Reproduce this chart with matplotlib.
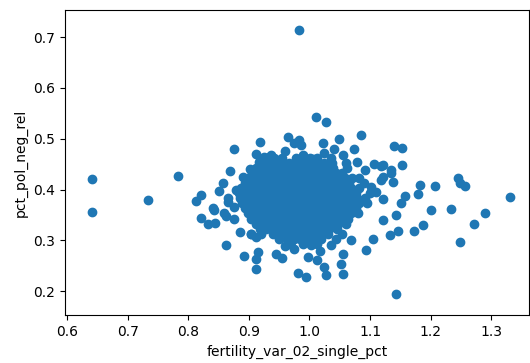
# libraries
import matplotlib
matplotlib.use('Agg')
import matplotlib.pyplot as plt

# points away from the main cluster (fertility, pol_neg)
fert_outer = [0.642, 0.642, 0.734, 0.783, 0.982, 1.011, 1.027, 1.143, 1.330,
              0.821, 0.832, 0.844, 0.862, 0.886, 0.892, 0.912, 0.915, 0.912, 0.945,
              0.954, 0.981, 0.904, 0.862, 0.876, 0.842,
              0.994, 1.027, 1.055, 1.055, 1.052, 0.997, 1.013, 1.024, 1.093, 1.104,
              1.132, 1.146, 1.173, 1.187, 1.201, 1.233, 1.249, 1.272, 1.289, 1.068,
              1.143, 0.969, 1.002,
              1.085, 1.140, 1.153, 1.153, 1.245, 1.256, 1.207, 1.183, 1.179, 1.157,
              1.151, 1.134, 1.138, 1.106, 1.118, 1.074, 1.049, 1.022, 0.983, 0.986,
              1.079, 1.091, 1.082, 1.101, 1.118, 1.121, 1.110,
              0.876, 0.918, 0.964, 0.959, 0.912, 0.925, 0.933, 0.947, 0.869, 0.902,
              0.938, 0.890, 0.914, 0.857, 0.851, 0.821, 0.812, 0.841, 0.865, 0.879,
              0.975, 0.917, 0.936, 1.041, 0.989, 1.055, 1.005, 1.024,
              1.121, 1.135, 1.248, 1.121, 1.121, 0.865, 0.859, 0.876, 0.903, 0.912,
              0.920, 0.975, 1.018, 0.960, 1.036]
pol_outer = [0.420, 0.355, 0.379, 0.426, 0.713, 0.543, 0.532, 0.194, 0.385,
             0.345, 0.332, 0.334, 0.291, 0.316, 0.269, 0.264, 0.277, 0.243, 0.274,
             0.266, 0.236, 0.312, 0.348, 0.343, 0.359,
             0.228, 0.231, 0.233, 0.273, 0.253, 0.267, 0.261, 0.248, 0.282, 0.302,
             0.310, 0.319, 0.319, 0.330, 0.359, 0.362, 0.296, 0.332, 0.354, 0.300,
             0.350, 0.297, 0.290,
             0.507, 0.485, 0.481, 0.449, 0.422, 0.407, 0.407, 0.409, 0.392, 0.387,
             0.373, 0.432, 0.415, 0.451, 0.446, 0.479, 0.499, 0.491, 0.497, 0.487,
             0.455, 0.438, 0.422, 0.405, 0.418, 0.382, 0.395,
             0.479, 0.493, 0.504, 0.476, 0.470, 0.464, 0.464, 0.458, 0.437, 0.440,
             0.433, 0.425, 0.418, 0.413, 0.397, 0.389, 0.378, 0.363, 0.384, 0.399,
             0.491, 0.455, 0.468, 0.479, 0.468, 0.468, 0.461, 0.471,
             0.448, 0.438, 0.412, 0.340, 0.425, 0.376, 0.353, 0.366, 0.313, 0.307,
             0.313, 0.284, 0.279, 0.288, 0.291]

# dense core of the cloud, read row by row (pol_neg level -> fertility values)
core_rows = {
    0.463: [0.941, 0.954, 0.977, 0.991, 1.001, 1.013, 1.036],
    0.453: [0.921, 0.933, 0.943, 0.956, 0.967, 0.979, 0.990, 1.003, 1.012, 1.024, 1.037, 1.060],
    0.443: [0.912, 0.923, 0.936, 0.946, 0.957, 0.970, 0.980, 0.993, 1.004, 1.014, 1.027, 1.038, 1.062],
    0.433: [0.905, 0.917, 0.927, 0.940, 0.951, 0.961, 0.974, 0.986, 0.996, 1.009, 1.019, 1.030, 1.043, 1.053],
    0.423: [0.899, 0.911, 0.922, 0.932, 0.945, 0.955, 0.968, 0.978, 0.990, 1.002, 1.012, 1.025, 1.035, 1.047, 1.059, 1.070],
    0.413: [0.893, 0.904, 0.915, 0.928, 0.938, 0.951, 0.961, 0.972, 0.985, 0.995, 1.008, 1.018, 1.029, 1.042, 1.052, 1.065, 1.090],
    0.403: [0.887, 0.898, 0.911, 0.921, 0.934, 0.944, 0.955, 0.968, 0.978, 0.991, 1.001, 1.012, 1.025, 1.035, 1.048, 1.058, 1.069, 1.082],
    0.393: [0.884, 0.896, 0.906, 0.917, 0.930, 0.940, 0.952, 0.964, 0.974, 0.987, 0.997, 1.010, 1.020, 1.031, 1.044, 1.054, 1.067, 1.077, 1.100],
    0.383: [0.886, 0.897, 0.910, 0.920, 0.931, 0.944, 0.954, 0.967, 0.977, 0.988, 1.001, 1.011, 1.022, 1.035, 1.045, 1.058, 1.068, 1.079, 1.092],
    0.373: [0.889, 0.901, 0.911, 0.924, 0.934, 0.945, 0.958, 0.968, 0.981, 0.991, 1.002, 1.015, 1.025, 1.038, 1.048, 1.059, 1.072, 1.082, 1.095],
    0.363: [0.893, 0.903, 0.916, 0.926, 0.939, 0.949, 0.960, 0.973, 0.983, 0.996, 1.006, 1.018, 1.030, 1.040, 1.053, 1.063, 1.076],
    0.353: [0.898, 0.910, 0.920, 0.931, 0.944, 0.954, 0.967, 0.977, 0.988, 1.001, 1.011, 1.024, 1.034, 1.045, 1.058, 1.068, 1.080],
    0.343: [0.904, 0.914, 0.927, 0.937, 0.950, 0.960, 0.971, 0.984, 0.994, 1.007, 1.017, 1.028, 1.041, 1.051, 1.064],
    0.333: [0.911, 0.923, 0.933, 0.946, 0.956, 0.967, 0.980, 0.990, 1.003, 1.013, 1.024, 1.037, 1.047, 1.060],
    0.323: [0.919, 0.929, 0.942, 0.952, 0.965, 0.975, 0.986, 0.999, 1.009, 1.022, 1.032, 1.045],
    0.313: [0.940, 0.950, 0.963, 0.973, 0.984, 0.997, 1.007, 1.020, 1.030, 1.053],
    0.303: [0.950, 0.963, 0.975, 0.985, 0.996, 1.009, 1.019, 1.043],
    0.293: [0.967, 0.990, 1.013],
}

fert = list(fert_outer)
pol = list(pol_outer)
for level, xs in core_rows.items():
    fert += xs
    pol += [level] * len(xs)

plt.rcParams['font.size'] = 10
fig = plt.figure(figsize=(5.3, 3.63), dpi=100)
ax = fig.add_axes([0.123, 0.132, 0.875, 0.84])

# Make the plot
ax.scatter(fert, pol, color='#1f77b4', s=36)

ax.set_xlim(0.597, 1.362)
ax.set_ylim(0.153, 0.753)
ax.set_xlabel('fertility_var_02_single_pct')
ax.set_ylabel('pct_pol_neg_rel')

fig.savefig('out.png', dpi=100)
